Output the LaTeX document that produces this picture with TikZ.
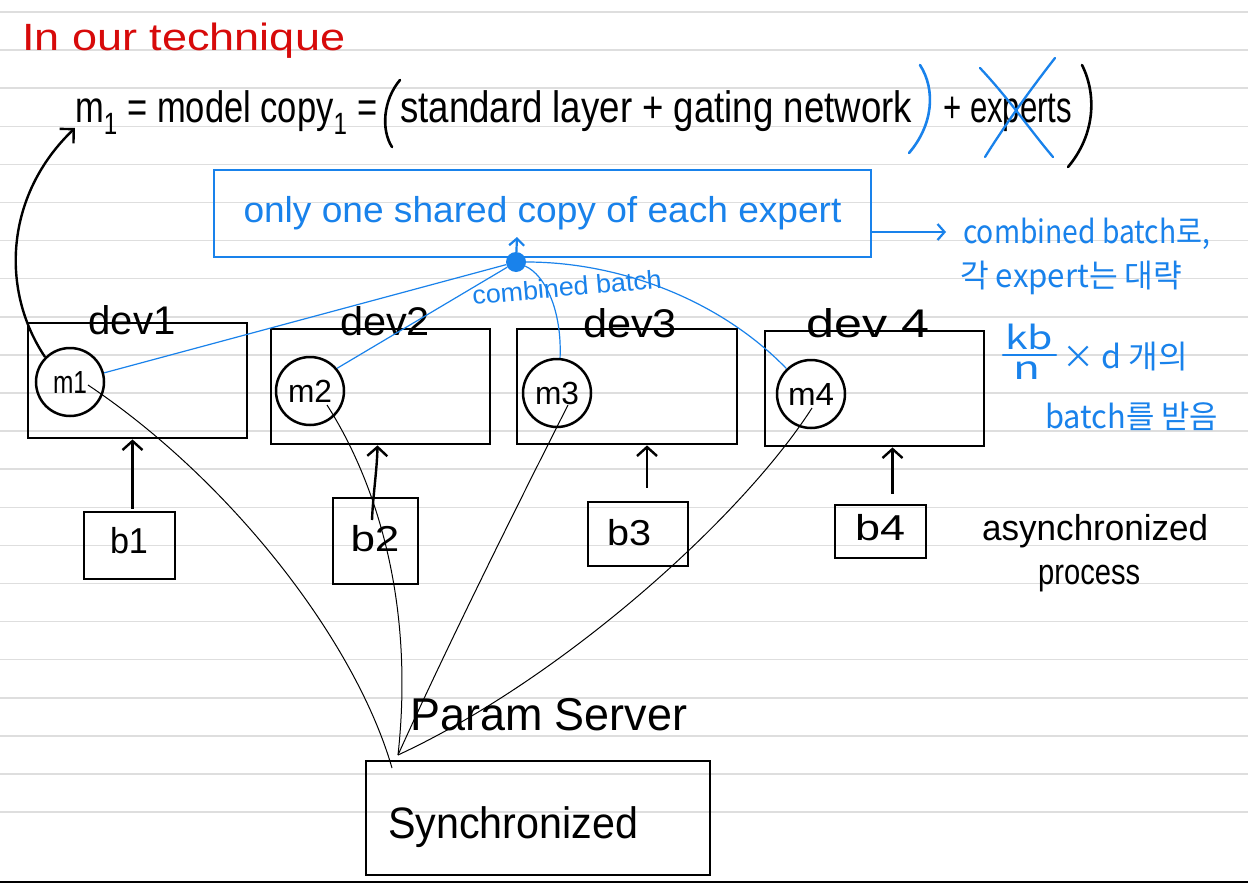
\documentclass[tikz,border=0pt]{standalone}
\usepackage{fontspec}
\usepackage{graphicx}
\setmainfont{Liberation Sans}
\newfontfamily\krfont{Noto Sans CJK KR}
\usetikzlibrary{arrows.meta}
\definecolor{blueink}{RGB}{25,130,235}
\definecolor{redink}{RGB}{215,10,10}
\definecolor{ruleline}{RGB}{222,222,222}
\newcommand\hw[3]{\resizebox{#1pt}{\height}{\fontsize{#2pt}{#2pt}\selectfont #3}}
\begin{document}
\begin{tikzpicture}[x=1pt,y=-1pt,
  box/.style={draw=black, line width=2.8pt, inner sep=0pt},
  bbox/.style={draw=blueink, line width=2.5pt, inner sep=0pt},
  mcirc/.style={circle, draw=black, line width=2.5pt, minimum size=68pt, inner sep=0pt},
  lbl/.style={inner sep=0pt, anchor=base west},
  lblc/.style={inner sep=0pt, anchor=base},
  thinblack/.style={line width=1pt, black},
  thinblue/.style={line width=1.2pt, blueink},
  uparr/.style={line width=2.4pt, -{Straight Barb[length=9pt,width=20pt]}},
  stroke/.style={line width=2.6pt, line cap=round},
]
\fill[white] (0,0) rectangle (1248,883);
\useasboundingbox (0,0) rectangle (1248,883);
\foreach \k in {0,...,21}{\draw[ruleline,line width=1.5pt] (0,{12+38.1*\k}) -- (1248,{12+38.1*\k});}
\draw[line width=2.2pt] (0,882) -- (1248,882);

% title and formula
\node[lbl, text=redink] (title) at (22,51) {\hw{323}{38}{In our technique}};
\node[lbl] (fa) at (75,122) {\hw{302}{44}{m\textsubscript{1} = model copy\textsubscript{1} =}};
\node[lbl] (fc) at (400,122) {\hw{512}{44}{standard layer + gating network}};
\node[lbl] (fe) at (943,122) {\hw{129}{44}{+ experts}};
\draw[stroke] (400,80) .. controls (383,100) and (381,130) .. (392,147);
\draw[stroke, blueink] (920,65) .. controls (936,90) and (933,125) .. (909,153);
\draw[stroke] (1082,65) .. controls (1097,95) and (1095,135) .. (1068,167);
\draw[stroke, blueink, line width=2.3pt] (980,68) .. controls (1010,100) and (1030,130) .. (1053,157);
\draw[stroke, blueink, line width=2.3pt] (1055,58) .. controls (1030,90) and (1005,125) .. (985,157);

% shared expert box
\node[bbox, minimum width=657pt, minimum height=87pt, text=blueink] (shared) at (542.5,213.5) {\hw{598}{36}{only one shared copy of each expert}};
\node[circle, fill=blueink, minimum size=20pt, inner sep=0pt] (dot) at (516,262) {};
\coordinate (hat) at (517,237);
\draw[blueink, line width=2.2pt, -{Straight Barb[length=7pt,width=15pt]}] (dot) -- (hat);
\node[inner sep=0pt, rotate=5, text=blueink] (cbc) at (567,287) {\hw{190}{26}{combined batch}};

% right blue notes
\coordinate (rtip) at (946,232);
\draw[blueink, line width=2.2pt, -{Straight Barb[length=7pt,width=16pt]}] ([yshift=-18.5pt]shared.east) -- (rtip);
\node[lbl, text=blueink] (cb1) at (963,243) {\krfont\hw{247}{32}{combined batch로,}};
\node[lbl, text=blueink] (cb2) at (960,287) {\krfont\hw{222}{32}{각 expert는 대략}};
\node[lbl, text=blueink] (fkb) at (1005,349) {\krfont\hw{48}{32}{kb}};
\draw[blueink, line width=2.4pt, line cap=round] (1003,355) -- (1056,355);
\node[lbl, text=blueink] (fn) at (1013,379) {\krfont\hw{27}{32}{n}};
\node[lbl, text=blueink] (fd) at (1062,368) {\krfont\hw{126}{32}{× d 개의}};
\node[lbl, text=blueink] (cb4) at (1045,428) {\krfont\hw{173}{32}{batch를 받음}};

% devices
\node[box, minimum width=219pt, minimum height=115pt] (dev1) at (137.5,380.5) {};
\node[box, minimum width=219pt, minimum height=115pt] (dev2) at (380.5,386.5) {};
\node[box, minimum width=220pt, minimum height=115pt] (dev3) at (627,386.5) {};
\node[box, minimum width=219pt, minimum height=115pt] (dev4) at (874.5,388.5) {};
\node[lblc] (dl1) at (132,334) {\hw{87}{40}{dev1}};
\node[lblc] (dl2) at (385,335) {\hw{90}{40}{dev2}};
\node[lblc] (dl3) at (630,337) {\hw{94}{40}{dev3}};
\node[lblc] (dl4) at (868,337) {\hw{123}{40}{dev 4}};

\node[mcirc] (m1) at (70,382) {\hw{34}{32}{m1}};
\node[mcirc] (m2) at (310,391) {\hw{44}{32}{m2}};
\node[mcirc] (m3) at (557,393) {\hw{44}{32}{m3}};
\node[mcirc] (m4) at (811,394) {\hw{46}{32}{m4}};

% batches
\node[box, minimum width=91pt, minimum height=67pt] (b1) at (129.5,545.5) {};
\node[box, minimum width=85pt, minimum height=86pt] (b2) at (375.5,541) {};
\node[box, minimum width=100pt, minimum height=64pt] (b3) at (638,534) {};
\node[box, minimum width=91pt, minimum height=53pt] (b4) at (880.5,531.5) {};
\node[lblc] (bl1) at (129,553) {\hw{38}{36}{b1}};
\node[lblc] (bl2) at (375,551) {\hw{49}{36}{b2}};
\node[lblc] (bl3) at (629,545) {\hw{44}{36}{b3}};
\node[lblc] (bl4) at (880,540) {\hw{50}{36}{b4}};

\draw[uparr] ([xshift=3pt,yshift=2pt]b1.north) -- ([xshift=3pt]b1.north |- dev1.south);
\coordinate (b2s) at (372,520);
\draw[uparr] (b2s) .. controls (373,495) and (377,470) .. ([xshift=2pt]b2.north |- dev2.south);
\draw[uparr] ([xshift=9pt,yshift=13pt]b3.north) -- ([xshift=9pt]b3.north |- dev3.south);
\draw[uparr] ([xshift=12pt,yshift=10pt]b4.north) -- ([xshift=12pt]b4.north |- dev4.south);

% left arrow to m1
\coordinate (mtip) at (75,128);
\draw[line width=2.4pt, -{Straight Barb[length=10pt,width=20pt]}] (m1.135) .. controls (0,290) and (5,195) .. (mtip);

% blue links to shared experts
\draw[thinblue] (m1.15) -- (dot);
\draw[thinblue] (m2.40) -- (dot);
\draw[thinblue] (m3.85) .. controls (562,310) and (545,275) .. (dot);
\draw[thinblue] (m4.134) .. controls (720,300) and (620,262) .. (dot);

% parameter server
\node[lbl] (ps) at (410,730) {\hw{277}{46}{Param Server}};
\node[box, minimum width=344pt, minimum height=114pt] (sync) at (538,818) {};
\node[lbl] (syl) at (388,838) {\hw{250}{44}{Synchronized}};
\coordinate (apex) at (398,755);
\coordinate (apexb) at (392,768);
\draw[thinblack] ([shift={(18,3)}]m1.center) .. controls (230,480) and (355,640) .. (apexb);
\draw[thinblack] ([shift={(17,14)}]m2.center) .. controls (375,480) and (415,600) .. (apex);
\draw[thinblack] ([shift={(11,12)}]m3.center) .. controls (520,500) and (450,640) .. (apex);
\draw[thinblack] ([shift={(1,14)}]m4.center) .. controls (740,520) and (560,680) .. (apex);

% right notes
\node[lbl] (as1) at (982,540) {\hw{226}{36}{asynchronized}};
\node[lbl] (as2) at (1038,584) {\hw{102}{36}{process}};
\end{tikzpicture}
\end{document}
